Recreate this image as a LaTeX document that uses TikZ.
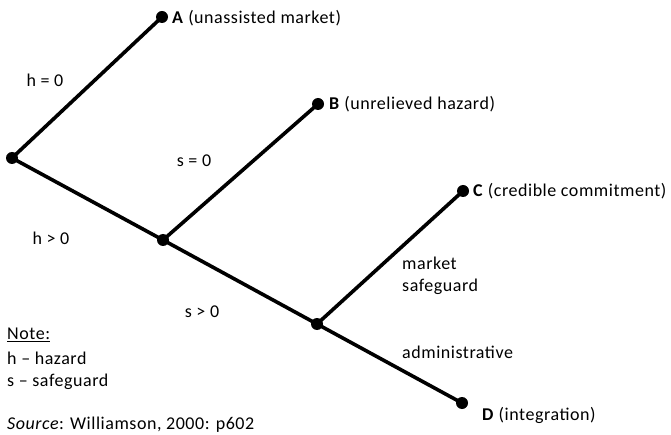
\documentclass[tikz,border=0pt]{standalone}
\usepackage{fontspec}
\setmainfont{Carlito}[LetterSpace=3]
\begin{document}
\begin{tikzpicture}[x=1pt,y=-1pt,
  branch/.style={line width=3.6pt},
  dot/.style={circle,fill=black,inner sep=0pt,minimum size=12pt},
  lbl/.style={inner sep=0pt,font=\fontsize{18}{21}\selectfont},
  lft/.style={lbl,anchor=west}]
\useasboundingbox (0,0) rectangle (671,435);
% decision nodes
\node[dot] (r) at (12,158) {};
\node[dot] (n2) at (163,240) {};
\node[dot] (n3) at (317,324) {};
% outcomes
\node[dot] (a) at (162,17) {};
\node[dot] (b) at (318,104) {};
\node[dot] (c) at (463,191) {};
\node[dot] (d) at (462,403) {};
% branches
\draw[branch] (r.center) -- (a.center);
\draw[branch] (r.center) -- (n2.center);
\draw[branch] (n2.center) -- (b.center);
\draw[branch] (n2.center) -- (n3.center);
\draw[branch] (n3.center) -- (c.center);
\draw[branch] (n3.center) -- (d.center);
% outcome labels
\node[lft] (ta) at (172,18) {\textbf{A} (unassisted market)};
\node[lft] (tb) at (329,104) {\textbf{B} (unrelieved hazard)};
\node[lft] (tc) at (473,191) {\textbf{C} (credible commitment)};
\node[lft] (td) at (482,415) {\textbf{D} (integration)};
% branch labels
\node[lbl] (h0) at (45,80) {h = 0};
\node[lbl] (s0) at (194,161) {s = 0};
\node[lbl] (hp) at (51,238) {h {\textgreater} 0};
\node[lbl] (sp) at (202,312) {s {\textgreater} 0};
\node[lft] (ms1) at (402,263) {market};
\node[lft] (ms2) at (402,287) {safeguard};
\node[lft] (adm) at (402,352) {administrative};
% key and source
\node[lft] (note) at (7,335) {\underline{Note:}};
\node[lft] (kh) at (7,358) {h – hazard};
\node[lft] (ks) at (7,382) {s – safeguard};
\node[lft] (src) at (7,425) {\textit{Source}: Williamson, 2000: p602};
\end{tikzpicture}
\end{document}
